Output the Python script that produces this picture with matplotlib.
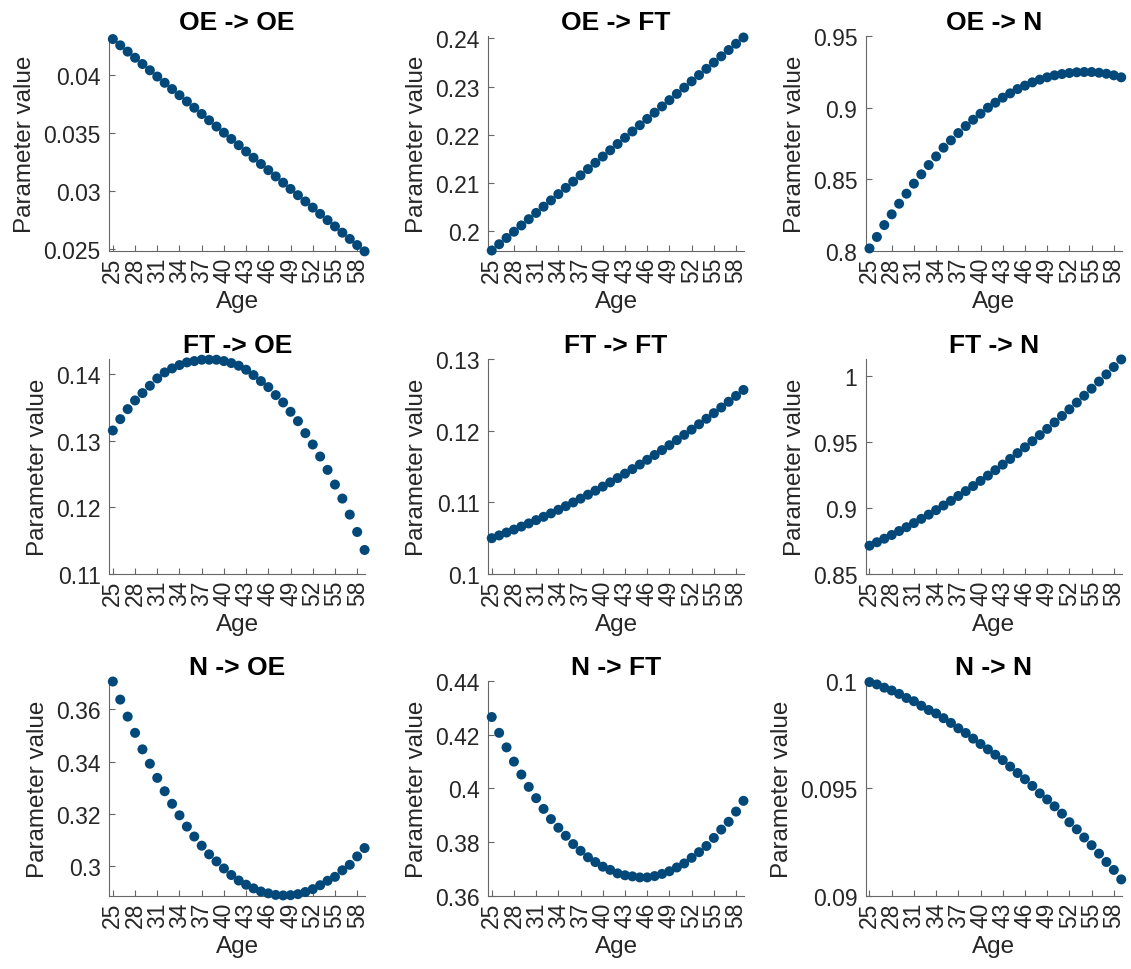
import matplotlib
matplotlib.use('Agg')
import matplotlib.pyplot as plt

plt.rcParams['font.family'] = ['Liberation Sans', 'DejaVu Sans']

ages = list(range(25, 60))
age_ticks = list(range(25, 59, 3))

titles = ['OE -> OE', 'OE -> FT', 'OE -> N',
          'FT -> OE', 'FT -> FT', 'FT -> N',
          'N -> OE', 'N -> FT', 'N -> N']

oe_oe = [0.0431, 0.04256, 0.04202, 0.04149, 0.04095, 0.04041, 0.03987,
         0.03933, 0.03879, 0.03826, 0.03772, 0.03718, 0.03664, 0.0361,
         0.03556, 0.03503, 0.03449, 0.03395, 0.03341, 0.03287, 0.03233,
         0.0318, 0.03126, 0.03072, 0.03018, 0.02964, 0.0291, 0.02857,
         0.02803, 0.02749, 0.02695, 0.02641, 0.02587, 0.02534, 0.0248]
oe_ft = [0.196, 0.1973, 0.1986, 0.1999, 0.2012, 0.2025, 0.2038, 0.2051,
         0.2064, 0.2077, 0.209, 0.2103, 0.2116, 0.2129, 0.2142, 0.2155,
         0.2168, 0.2181, 0.2194, 0.2207, 0.222, 0.2233, 0.2246, 0.2259,
         0.2272, 0.2285, 0.2298, 0.2311, 0.2324, 0.2337, 0.235, 0.2363,
         0.2376, 0.2389, 0.2402]
oe_n = [0.8018, 0.8098, 0.8181, 0.8256, 0.833, 0.84, 0.847, 0.8535, 0.86,
        0.866, 0.8721, 0.8772, 0.8823, 0.8872, 0.8916, 0.8958, 0.9, 0.9035,
        0.907, 0.91, 0.913, 0.9154, 0.9177, 0.9196, 0.9212, 0.9226, 0.9235,
        0.9242, 0.9247, 0.9249, 0.9249, 0.9244, 0.9237, 0.9226, 0.9212]
ft_oe = [0.1315, 0.1332, 0.1347, 0.136, 0.1371, 0.1382, 0.1393, 0.1402,
         0.1408, 0.1413, 0.1417, 0.1419, 0.1421, 0.1421, 0.1421, 0.1419,
         0.1416, 0.1412, 0.1406, 0.1398, 0.1389, 0.138, 0.1368, 0.1357,
         0.1343, 0.1329, 0.1311, 0.1294, 0.1276, 0.1256, 0.1234, 0.1213,
         0.1189, 0.1163, 0.1136]
ft_ft = [0.105, 0.10539, 0.10579, 0.1062, 0.10662, 0.10706, 0.10752,
         0.10798, 0.10846, 0.10896, 0.10947, 0.10999, 0.11052, 0.11107,
         0.11163, 0.1122, 0.11279, 0.11339, 0.11401, 0.11464, 0.11528,
         0.11594, 0.11661, 0.11729, 0.11798, 0.11869, 0.11942, 0.12015,
         0.1209, 0.12167, 0.12245, 0.12324, 0.12404, 0.12486, 0.12569]
ft_n = [0.8714, 0.874, 0.8767, 0.8795, 0.8825, 0.8854, 0.8885, 0.8917,
        0.8949, 0.8983, 0.9018, 0.9053, 0.909, 0.9127, 0.9165, 0.9204,
        0.9244, 0.9285, 0.9327, 0.937, 0.9414, 0.9458, 0.9504, 0.955,
        0.9597, 0.9646, 0.9695, 0.9745, 0.9796, 0.9848, 0.9901, 0.9955,
        1.0009, 1.0065, 1.0122]
n_oe = [0.3706, 0.3637, 0.3572, 0.351, 0.3447, 0.3392, 0.3338, 0.3287,
        0.3239, 0.3195, 0.3152, 0.3114, 0.3079, 0.3046, 0.3019, 0.2992,
        0.2967, 0.2946, 0.293, 0.2916, 0.2904, 0.2897, 0.2891, 0.2889,
        0.289, 0.2894, 0.2902, 0.2913, 0.2928, 0.2945, 0.296, 0.2985,
        0.3006, 0.3038, 0.307]
n_ft = [0.4266, 0.4207, 0.4153, 0.41, 0.4052, 0.4006, 0.3964, 0.3924,
        0.3886, 0.3854, 0.3824, 0.3793, 0.3768, 0.3744, 0.3726, 0.3709,
        0.3697, 0.3684, 0.3677, 0.3673, 0.3669, 0.3669, 0.3674, 0.3682,
        0.3692, 0.3706, 0.3721, 0.3742, 0.3763, 0.3786, 0.3816, 0.3847,
        0.3876, 0.3914, 0.3954]
n_n = [0.09995, 0.09984, 0.09969, 0.09956, 0.0994, 0.09921, 0.09906,
       0.09885, 0.09865, 0.09849, 0.09827, 0.09805, 0.0978, 0.09758,
       0.09732, 0.09707, 0.09682, 0.09657, 0.09632, 0.09602, 0.09572,
       0.09543, 0.09512, 0.09477, 0.09449, 0.09417, 0.09383, 0.09343,
       0.0931, 0.09272, 0.09236, 0.09197, 0.09158, 0.09121, 0.09077]

series = [oe_oe, oe_ft, oe_n, ft_oe, ft_ft, ft_n, n_oe, n_ft, n_n]

ylims = [(0.02483, 0.04336), (0.1959, 0.2405), (0.8, 0.95),
         (0.11, 0.1422), (0.1, 0.13), (0.85, 1.0125),
         (0.2887, 0.3708), (0.36, 0.44), (0.09, 0.1)]
yticks = [[0.025, 0.03, 0.035, 0.04], [0.2, 0.21, 0.22, 0.23, 0.24],
          [0.8, 0.85, 0.9, 0.95], [0.11, 0.12, 0.13, 0.14],
          [0.1, 0.11, 0.12, 0.13], [0.85, 0.9, 0.95, 1.0],
          [0.3, 0.32, 0.34, 0.36], [0.36, 0.38, 0.4, 0.42, 0.44],
          [0.09, 0.095, 0.1]]
yticklabels = [['0.025', '0.03', '0.035', '0.04'],
               ['0.2', '0.21', '0.22', '0.23', '0.24'],
               ['0.8', '0.85', '0.9', '0.95'],
               ['0.11', '0.12', '0.13', '0.14'],
               ['0.1', '0.11', '0.12', '0.13'],
               ['0.85', '0.9', '0.95', '1'],
               ['0.3', '0.32', '0.34', '0.36'],
               ['0.36', '0.38', '0.4', '0.42', '0.44'],
               ['0.09', '0.095', '0.1']]

dot_color = '#02497a'
axis_color = '#262626'

fig = plt.figure(figsize=(11.31, 9.70), dpi=100)

lefts = [0.0965, 0.4315, 0.7655]
bottoms = [0.7402, 0.4072, 0.0753]
w, h = 0.2265, 0.2216

for i, vals in enumerate(series):
    r, c = divmod(i, 3)
    ax = fig.add_axes([lefts[c], bottoms[r], w, h])
    ax.scatter(ages, vals, s=52, color=dot_color, edgecolors='none',
               zorder=3, clip_on=False)
    ax.set_xlim(24.5, 59.1)
    ax.set_ylim(*ylims[i])
    ax.set_xticks(age_ticks)
    ax.set_xticklabels([str(a) for a in age_ticks], rotation=90)
    ax.set_yticks(yticks[i])
    ax.set_yticklabels(yticklabels[i])
    ax.set_title(titles[i], fontsize=19, fontweight='bold', pad=5)
    ax.set_xlabel('Age', fontsize=17.5, color=axis_color, labelpad=6)
    ax.set_ylabel('Parameter value', fontsize=17.5, color=axis_color,
                  labelpad=5)
    for side in ['top', 'right']:
        ax.spines[side].set_visible(False)
    for side in ['left', 'bottom']:
        ax.spines[side].set_color('#666666')
        ax.spines[side].set_linewidth(0.8)
    ax.tick_params(direction='in', length=4, width=0.8, color='#666666',
                   labelsize=16.5, labelcolor=axis_color)
    ax.tick_params(axis='y', pad=6)
    ax.tick_params(axis='x', pad=4)

plt.savefig('out.png', dpi=100)
